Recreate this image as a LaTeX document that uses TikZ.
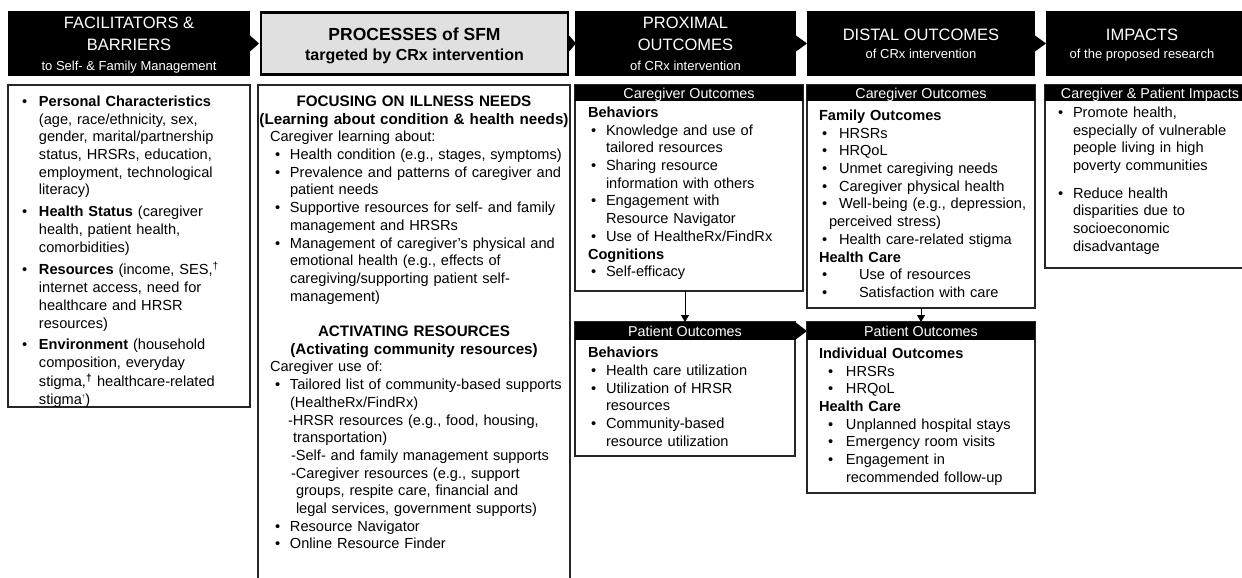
\documentclass[tikz,border=0pt]{standalone}
\usepackage{fontspec}
\setmainfont{Liberation Sans}
\usetikzlibrary{arrows.meta}
\newcommand\bl[3]{\par\noindent\hspace*{#1}\makebox[#2][l]{\textbullet}\strut#3}
\newcommand\cl[2]{\par\noindent\hspace*{#1}\strut#2}
\newcommand\bodyfont{\fontsize{14.6}{17.7}\selectfont}
\begin{document}
\begin{tikzpicture}[x=1pt,y=-1pt,
  hdr/.style={fill=black, draw=none, inner sep=0pt, outer sep=0pt, anchor=north west},
  hdrgray/.style={fill=black!12, draw=black, line width=2.5pt, inner sep=0pt, outer sep=0pt, anchor=north west},
  htxt/.style={text=white, inner sep=0pt, anchor=base},
  bigf/.style={font=\fontsize{16.5}{20}\selectfont},
  smallf/.style={font=\fontsize{13}{16}\selectfont},
  bodybox/.style={draw=black!85, line width=1.1pt, fill=white, inner sep=0pt, outer sep=0pt, anchor=north west},
  bar/.style={fill=black, inner sep=0pt, outer sep=0pt, anchor=north west, text=white,
    font=\fontsize{14.3}{17}\selectfont, text height=10.3pt, text depth=0pt},
  txt/.style={inner sep=0pt, outer sep=0pt, anchor=north west, text width=#1, align=left, font=\bodyfont},
  headtxt/.style={inner sep=0pt, outer sep=0pt, anchor=north, text width=312pt, align=center,
    font=\fontsize{15.2}{17.7}\selectfont\bfseries},
  arr/.style={line width=0.8pt, -{Triangle[length=7pt,width=8pt]}}
]
\fill[white] (0,0) rectangle (1242,578);
\useasboundingbox (0,0) rectangle (1242,578);

% ---------- header row ----------
\node[hdr, minimum width=242pt, minimum height=65pt] (h1) at (8,11) {};
\node[hdrgray, minimum width=307pt, minimum height=62pt] (h2) at (261,12.5) {};
\node[hdr, minimum width=221pt, minimum height=65pt] (h3) at (575,11) {};
\node[hdr, minimum width=228pt, minimum height=65pt] (h4) at (807,11) {};
\node[hdr, minimum width=210pt, minimum height=65pt] (h5) at (1046,11) {};

\fill ([yshift=8pt]h1.east) -- ++(9,8) -- ([yshift=-8pt]h1.east) -- cycle;
\fill ([xshift=1pt,yshift=8pt]h2.east) -- ++(7,8) -- ([xshift=1pt,yshift=-8pt]h2.east) -- cycle;
\fill ([yshift=8pt]h3.east) -- ++(11,8) -- ([yshift=-8pt]h3.east) -- cycle;
\fill ([yshift=8pt]h4.east) -- ++(11,8) -- ([yshift=-8pt]h4.east) -- cycle;

\node[htxt, bigf] (h1a) at (129,29) {FACILITATORS \&};
\node[htxt, bigf] (h1b) at (129,50.5) {BARRIERS};
\node[htxt, smallf] (h1c) at (129,70.5) {to Self- \& Family Management};

\node[inner sep=0pt, anchor=base, font=\fontsize{17.5}{20}\selectfont\bfseries] (h2a) at (414.5,40.3) {PROCESSES of SFM};
\node[inner sep=0pt, anchor=base, font=\fontsize{16}{20}\selectfont\bfseries] (h2b) at (414.5,60.7) {targeted by CRx intervention};

\node[htxt, bigf] (h3a) at (685.5,29) {PROXIMAL};
\node[htxt, bigf] (h3b) at (685.5,50.5) {OUTCOMES};
\node[htxt, smallf] (h3c) at (685.5,70.5) {of CRx intervention};

\node[htxt, bigf] (h4a) at (921,41) {DISTAL OUTCOMES};
\node[htxt, smallf] (h4b) at (921,58.7) {of CRx intervention};

\node[htxt, bigf] (h5a) at (1142,41) {IMPACTS};
\node[htxt, smallf] (h5b) at (1142,58.7) {of the proposed research};

% ---------- column 1 ----------
\node[bodybox, minimum width=242pt, minimum height=322pt] (b1) at (8,85) {};
\node[txt=226pt] (b1t) at (22,88.7) {%
\bl{0pt}{17pt}{\textbf{Personal Characteristics}}
\cl{17pt}{(age, race/ethnicity, sex,}
\cl{17pt}{gender, marital/partnership}
\cl{17pt}{status, HRSRs, education,}
\cl{17pt}{employment, technological}
\cl{17pt}{literacy)}
\par\vspace{4pt}
\bl{0pt}{17pt}{\textbf{Health Status} (caregiver}
\cl{17pt}{health, patient health,}
\cl{17pt}{comorbidities)}
\par\vspace{4pt}
\bl{0pt}{17pt}{\textbf{Resources} (income, SES,\textsuperscript{†}}
\cl{17pt}{internet access, need for}
\cl{17pt}{healthcare and HRSR}
\cl{17pt}{resources)}
\par\vspace{4pt}
\bl{0pt}{17pt}{\textbf{Environment} (household}
\cl{17pt}{composition, everyday}
\cl{17pt}{stigma,\textsuperscript{\textbf{†}} healthcare-related}
\cl{17pt}{stigma\textsuperscript{\tiny †})}};

% ---------- column 2 ----------
\node[bodybox, minimum width=312pt, minimum height=520pt] (b2) at (258,85) {};
\node[headtxt] (b2h1) at (414,94) {\strut FOCUSING ON ILLNESS NEEDS\\\strut(Learning about condition \& health needs)};
\node[txt=296pt] (b2l1) at (270,124.1) {%
\cl{0pt}{Caregiver learning about:}
\bl{5pt}{15pt}{Health condition (e.g., stages, symptoms)}
\bl{5pt}{15pt}{Prevalence and patterns of caregiver and}
\cl{20pt}{patient needs}
\bl{5pt}{15pt}{Supportive resources for self- and family}
\cl{20pt}{management and HRSRs}
\bl{5pt}{15pt}{Management of caregiver's physical and}
\cl{20pt}{emotional health (e.g., effects of}
\cl{20pt}{caregiving/supporting patient self-}
\cl{20pt}{management)}};
\node[headtxt] (b2h2) at (414,324.1) {\strut ACTIVATING RESOURCES\\\strut(Activating community resources)};
\node[txt=296pt] (b2l2) at (270,354.2) {%
\cl{0pt}{Caregiver use of:}
\bl{5pt}{15pt}{Tailored list of community-based supports}
\cl{20pt}{(HealtheRx/FindRx)}
\cl{18pt}{-HRSR resources (e.g., food, housing,}
\cl{23pt}{transportation)}
\cl{21pt}{-Self- and family management supports}
\cl{21pt}{-Caregiver resources (e.g., support}
\cl{26pt}{groups, respite care, financial and}
\cl{26pt}{legal services, government supports)}
\bl{5pt}{15pt}{Resource Navigator}
\bl{5pt}{15pt}{Online Resource Finder}};

% ---------- column 3 ----------
\node[bodybox, minimum width=228pt, minimum height=206pt] (b3c) at (575,85) {};
\node[bar, minimum width=228pt, minimum height=16pt] (b3cbar) at (575,85) {Caregiver Outcomes};
\node[txt=210pt] (b3ct) at (588,99.7) {%
\cl{0pt}{\textbf{Behaviors}}
\bl{3pt}{15pt}{Knowledge and use of}
\cl{18pt}{tailored resources}
\bl{3pt}{15pt}{Sharing resource}
\cl{18pt}{information with others}
\bl{3pt}{15pt}{Engagement with}
\cl{18pt}{Resource Navigator}
\bl{3pt}{15pt}{Use of HealtheRx/FindRx}
\cl{0pt}{\textbf{Cognitions}}
\bl{3pt}{15pt}{Self-efficacy}};

\node[bodybox, minimum width=220pt, minimum height=134pt] (b3p) at (575,322) {};
\node[bar, minimum width=220pt, minimum height=18pt] (b3pbar) at (575,322) {Patient Outcomes};
\fill (b3pbar.north east) -- ++(12,9) -- (b3pbar.south east) -- cycle;
\node[txt=205pt] (b3pt) at (588,340) {%
\cl{0pt}{\textbf{Behaviors}}
\bl{3pt}{15pt}{Health care utilization}
\bl{3pt}{15pt}{Utilization of HRSR}
\cl{18pt}{resources}
\bl{3pt}{15pt}{Community-based}
\cl{18pt}{resource utilization}};
\draw[arr] (b3c.south -| b3pbar.north) -- (b3pbar.north);

% ---------- column 4 ----------
\node[bodybox, minimum width=228pt, minimum height=223pt] (b4c) at (807,85) {};
\node[bar, minimum width=228pt, minimum height=16pt] (b4cbar) at (807,85) {Caregiver Outcomes};
\node[txt=214pt] (b4ct) at (819,102.7) {%
\cl{0pt}{\textbf{Family Outcomes}}
\bl{3pt}{17pt}{HRSRs}
\bl{3pt}{17pt}{HRQoL}
\bl{3pt}{17pt}{Unmet caregiving needs}
\bl{3pt}{17pt}{Caregiver physical health}
\bl{3pt}{17pt}{Well-being (e.g., depression,}
\cl{10pt}{perceived stress)}
\bl{3pt}{17pt}{Health care-related stigma}
\cl{0pt}{\textbf{Health Care}}
\bl{3pt}{37pt}{Use of resources}
\bl{3pt}{37pt}{Satisfaction with care}};

\node[bodybox, minimum width=228pt, minimum height=171pt] (b4p) at (807,322) {};
\node[bar, minimum width=228pt, minimum height=18pt] (b4pbar) at (807,322) {Patient Outcomes};
\node[txt=214pt] (b4pt) at (819,340.7) {%
\cl{0pt}{\textbf{Individual Outcomes}}
\bl{9pt}{18pt}{HRSRs}
\bl{9pt}{18pt}{HRQoL}
\cl{0pt}{\textbf{Health Care}}
\bl{9pt}{18pt}{Unplanned hospital stays}
\bl{9pt}{18pt}{Emergency room visits}
\bl{9pt}{18pt}{Engagement in}
\cl{27pt}{recommended follow-up}};
\draw[arr] (b4c.south) -- (b4pbar.north);

% ---------- column 5 ----------
\node[bodybox, minimum width=210pt, minimum height=183pt] (b5) at (1045,85) {};
\node[bar, minimum width=210pt, minimum height=16pt] (b5bar) at (1045,85) {Caregiver \& Patient Impacts};
\node[txt=180pt] (b5t) at (1058,99.7) {%
\bl{0pt}{15pt}{Promote health,}
\cl{15pt}{especially of vulnerable}
\cl{15pt}{people living in high}
\cl{15pt}{poverty communities}
\par\vspace{10pt}
\bl{0pt}{15pt}{Reduce health}
\cl{15pt}{disparities due to}
\cl{15pt}{socioeconomic}
\cl{15pt}{disadvantage}};
\end{tikzpicture}
\end{document}
